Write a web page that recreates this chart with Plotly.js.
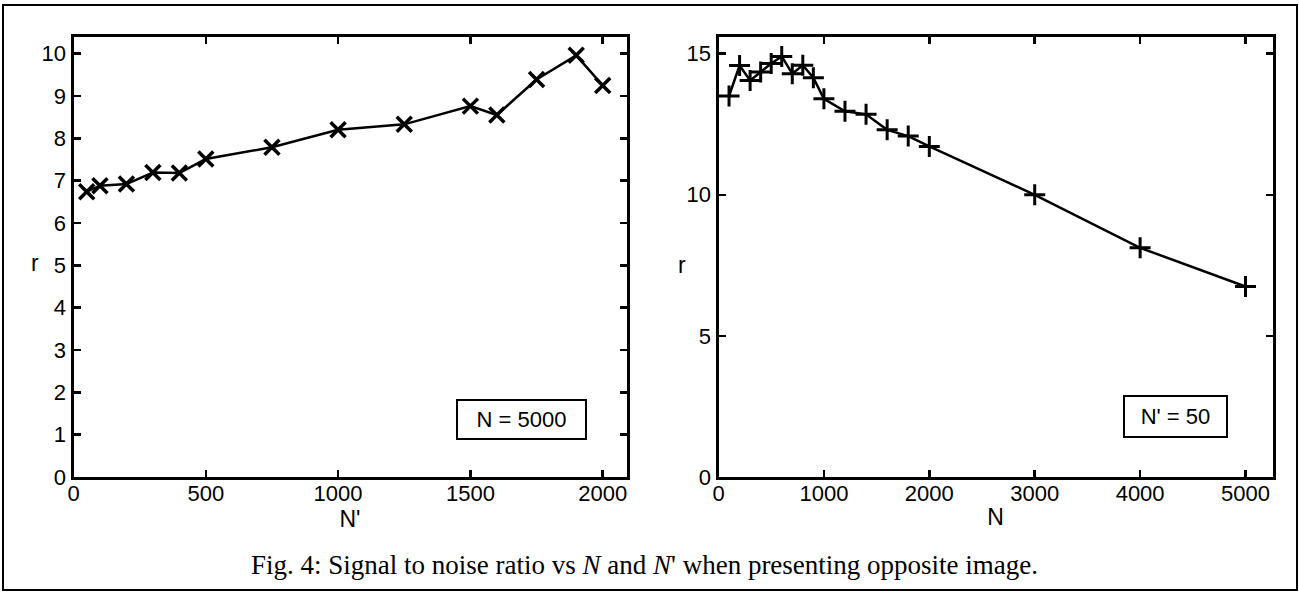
<!DOCTYPE html>
<html>
<head>
<meta charset="utf-8">
<script src="https://cdn.plot.ly/plotly-3.0.1.min.js"></script>
<style>html,body{margin:0;padding:0;background:#fff;}#chart{width:1299px;height:592px;}</style>
</head>
<body>
<div id="chart"></div>
<script>
// Left panel: r vs N' (N = 5000)
const leftNprime = [50, 100, 200, 300, 400, 500, 750, 1000, 1250, 1500, 1600, 1750, 1900, 2000];
const leftR = [6.74, 6.88, 6.92, 7.19, 7.18, 7.51, 7.79, 8.20, 8.33, 8.76, 8.55, 9.39, 9.96, 9.25];
// Right panel: r vs N (N' = 50)
const rightN = [100, 200, 300, 400, 500, 600, 700, 800, 900, 1000, 1200, 1400, 1600, 1800, 2000, 3000, 4000, 5000];
const rightR = [13.5, 14.58, 14.05, 14.35, 14.65, 14.9, 14.29, 14.59, 14.15, 13.4, 12.96, 12.85, 12.3, 12.08, 11.71, 10.0, 8.12, 6.75];

const leftTicksX = [0, 500, 1000, 1500, 2000];
const leftTicksY = [0, 1, 2, 3, 4, 5, 6, 7, 8, 9, 10];
const rightTicksX = [0, 1000, 2000, 3000, 4000, 5000];
const rightTicksY = [0, 5, 10, 15];

const W = 1299, H = 592;
const px = v => v / W;
const py = v => 1 - v / H;

const sans = "Liberation Sans, Arial, Helvetica, sans-serif";
const serif = "Liberation Serif, Times New Roman, serif";

const axisBase = {
  showline: true, linewidth: 3, linecolor: '#000', mirror: 'ticks',
  ticks: 'inside', ticklen: 7, tickwidth: 2.5, tickcolor: '#000',
  showgrid: false, zeroline: false,
  tickfont: {family: sans, size: 22, color: '#000'}
};
const xExtra = {ticklabelstandoff: -5};

const traces = [
  {x: leftNprime, y: leftR, xaxis: 'x', yaxis: 'y', type: 'scatter', mode: 'lines+markers',
   line: {color: '#000', width: 2.5},
   marker: {symbol: 'x-thin', size: 15, line: {color: '#000', width: 3.5}, color: '#000'}},
  {x: rightN, y: rightR, xaxis: 'x2', yaxis: 'y2', type: 'scatter', mode: 'lines+markers',
   line: {color: '#000', width: 2.5},
   marker: {symbol: 'cross-thin', size: 15, line: {color: '#000', width: 3}, color: '#000'}}
];

const layout = {
  width: W, height: H,
  margin: {l: 0, r: 0, t: 0, b: 0},
  paper_bgcolor: '#fff', plot_bgcolor: '#fff',
  showlegend: false,
  xaxis: Object.assign({}, axisBase, xExtra, {domain: [px(73.5), px(626.5)], range: [0, 2090],
    tickvals: leftTicksX, anchor: 'y',
    title: {text: "N'", font: {family: sans, size: 23, color: '#000'}, standoff: 4}}),
  yaxis: Object.assign({}, axisBase, {domain: [py(477), py(36.7)], range: [0, 10.4],
    tickvals: leftTicksY, anchor: 'x'}),
  xaxis2: Object.assign({}, axisBase, xExtra, {domain: [px(718.5), px(1272.5)], range: [0, 5256],
    tickvals: rightTicksX, anchor: 'y2',
    title: {text: "N", font: {family: sans, size: 23, color: '#000'}, standoff: 4}}),
  yaxis2: Object.assign({}, axisBase, {domain: [py(477), py(36.7)], range: [0, 15.6],
    tickvals: rightTicksY, anchor: 'x2'}),
  annotations: [
    {text: 'r', xref: 'paper', yref: 'paper', x: px(35), y: py(263), xanchor: 'center', yanchor: 'middle',
     showarrow: false, font: {family: sans, size: 23, color: '#000'}},
    {text: 'r', xref: 'paper', yref: 'paper', x: px(682), y: py(265), xanchor: 'center', yanchor: 'middle',
     showarrow: false, font: {family: sans, size: 23, color: '#000'}},
    {text: 'N = 5000', xref: 'paper', yref: 'paper', x: px(521.5), y: py(419.7), xanchor: 'center', yanchor: 'middle',
     showarrow: false, width: 127, height: 37, borderpad: 0, bordercolor: '#000', borderwidth: 2, bgcolor: '#fff',
     font: {family: sans, size: 22, color: '#000'}},
    {text: "N' = 50", xref: 'paper', yref: 'paper', x: px(1175), y: py(416), xanchor: 'center', yanchor: 'middle',
     showarrow: false, width: 101, height: 39, borderpad: 0, bordercolor: '#000', borderwidth: 2, bgcolor: '#fff',
     font: {family: sans, size: 22, color: '#000'}},
    {text: "Fig. 4: Signal to noise ratio vs <i>N</i> and <i>N</i>' when presenting opposite image.",
     xref: 'paper', yref: 'paper', x: px(644), y: py(565), xanchor: 'center', yanchor: 'middle',
     showarrow: false, font: {family: serif, size: 27, color: '#000'}}
  ],
  shapes: [
    {type: 'rect', xref: 'paper', yref: 'paper', x0: px(3), x1: px(1297), y0: py(590), y1: py(5),
     line: {color: '#000', width: 2}, layer: 'below'}
  ]
};

Plotly.newPlot('chart', traces, layout, {staticPlot: true, displayModeBar: false});
</script>
</body>
</html>
